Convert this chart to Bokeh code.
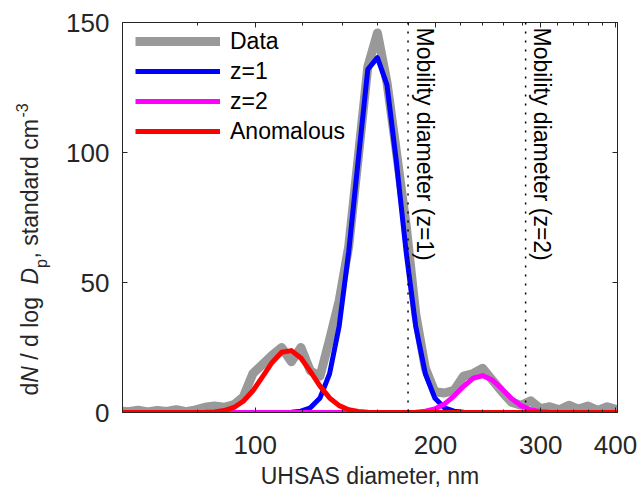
import math
from bokeh.plotting import figure
from bokeh.layouts import row
from bokeh.models import (LogAxis, LinearAxis, FixedTicker, Range1d, Span, Label,
                          Legend, LegendItem, CustomJSTickFormatter, PrintfTickFormatter)
from bokeh.embed import file_html
from bokeh.resources import INLINE

# ---------------- data ----------------
diameter_nm = [59.2, 61.4, 63.7, 66.1, 68.6, 71.1, 73.8, 76.6, 79.5, 82.4,
               85.5, 88.7, 92.1, 95.5, 99.1, 102.8, 106.7, 110.7, 114.9, 119.2,
               123.6, 128.3, 133.1, 138.1, 143.3, 148.6, 154.2, 160.0, 166.0, 172.2,
               178.7, 185.4, 192.4, 199.5, 207.0, 214.8, 222.9, 231.2, 239.9, 248.9,
               258.3, 268.0, 278.0, 288.5, 299.3, 310.5, 322.2, 334.3, 346.8, 359.8,
               373.4, 387.4, 404.0]

data_vals = [0.5, 0.3, 0.9, 0.2, 0.8, 0.4, 1.1, 0.3, 1.0, 2.0,
             2.5, 2.0, 3.0, 6.0, 15.0, 18.5, 22.0, 25.0, 19.5, 25.0,
             16.0, 14.0, 28.0, 43.0, 64.0, 98.0, 133.0, 146.0, 127.0, 100.0,
             72.0, 38.0, 17.0, 8.0, 7.5, 8.5, 14.0, 15.0, 17.0, 12.5,
             8.0, 4.0, 2.8, 4.5, 1.5, 2.2, 1.0, 2.8, 1.3, 2.5,
             0.8, 2.2, 1.0]

fit_z1 = [0, 0, 0, 0, 0, 0, 0, 0, 0, 0,
          0, 0, 0, 0, 0, 0, 0, 0, 0.1, 0.5,
          1.8, 5.6, 14.9, 33.2, 62.0, 97.0, 132.0, 136.5, 126.0, 96.0,
          61.7, 33.2, 14.9, 5.6, 1.8, 0.5, 0.1, 0, 0, 0,
          0, 0, 0, 0, 0, 0, 0, 0, 0, 0,
          0, 0, 0]

fit_z2 = [0, 0, 0, 0, 0, 0, 0, 0, 0, 0,
          0, 0, 0, 0, 0, 0, 0, 0, 0, 0,
          0, 0, 0, 0, 0, 0, 0, 0, 0, 0,
          0.02, 0.13, 0.47, 1.37, 3.24, 6.3, 10.06, 13.18, 14.18, 12.5,
          9.07, 5.39, 2.63, 1.05, 0.35, 0.09, 0, 0, 0, 0,
          0, 0, 0]

fit_anom = [0, 0, 0, 0, 0, 0, 0, 0, 0, 0.07,
            0.24, 0.74, 1.93, 4.34, 8.34, 13.7, 19.25, 23.15, 23.8, 20.95,
            15.8, 10.16, 5.6, 2.64, 1.06, 0.37, 0.11, 0.03, 0, 0,
            0, 0, 0, 0, 0, 0, 0, 0, 0, 0,
            0, 0, 0, 0, 0, 0, 0, 0, 0, 0,
            0, 0, 0]

series_names = ["Data", "z=1", "z=2", "Anomalous"]
mobility_diam = [180, 283]
mobility_text = ["Mobility diameter (z=1)", "Mobility diameter (z=2)"]

x_ticks = [100, 200, 300, 400]
x_minor = [60, 80, 120, 140, 160, 180, 220, 240, 260, 280, 320, 340, 360, 380]
y_ticks = [0, 50, 100, 150]

X_RANGE = (60, 403)
Y_RANGE = (0, 150)

# ---------------- style ----------------
FONT = "Liberation Sans"
AX = "#262626"
TICK_FS = "26px"
TXT_PX = 23
SUB_PX = 16
TXT_FS = f"{TXT_PX}px"
SUB_FS = f"{SUB_PX}px"
MID = 0.375          # Label anchor sits this many em above the text baseline

PAGE_H = 488
LEFT_W = 55          # strip holding the y-axis title

p = figure(frame_width=495, frame_height=390, x_axis_type="log",
           x_range=Range1d(*X_RANGE), y_range=Range1d(*Y_RANGE),
           output_backend="svg", toolbar_location=None,
           min_border_left=122 - LEFT_W, min_border_right=26,
           min_border_top=22, min_border_bottom=76)
p.xgrid.visible = False
p.ygrid.visible = False
p.outline_line_color = AX
p.outline_line_width = 1
p.background_fill_color = "white"
p.border_fill_color = "white"


def style_axis(ax, show_labels=True):
    ax.axis_line_color = AX
    ax.axis_line_width = 1
    ax.major_tick_line_color = AX
    ax.minor_tick_line_color = AX
    ax.major_tick_in = 5
    ax.major_tick_out = 0
    ax.minor_tick_in = 3
    ax.minor_tick_out = 0
    if show_labels:
        ax.major_label_text_font = FONT
        ax.major_label_text_font_size = TICK_FS
        ax.major_label_text_color = AX
    else:
        ax.major_label_text_font_size = "0px"
        ax.major_label_standoff = 0
        ax.formatter = CustomJSTickFormatter(code="return ''")


xa = p.xaxis[0]
xa.ticker = FixedTicker(ticks=x_ticks, minor_ticks=x_minor)
xa.formatter = PrintfTickFormatter(format="%d")
style_axis(xa)
xa.major_label_standoff = 23
xa.axis_label = "UHSAS diameter, nm"
xa.axis_label_text_font = FONT
xa.axis_label_text_font_size = TXT_FS
xa.axis_label_text_font_style = "normal"
xa.axis_label_text_color = AX
xa.axis_label_standoff = 6

ya = p.yaxis[0]
ya.ticker = FixedTicker(ticks=y_ticks, minor_ticks=[])
style_axis(ya)
ya.major_label_standoff = 13

top = LogAxis(ticker=FixedTicker(ticks=x_ticks, minor_ticks=x_minor))
style_axis(top, show_labels=False)
p.add_layout(top, "above")

right = LinearAxis(ticker=FixedTicker(ticks=y_ticks, minor_ticks=[]))
style_axis(right, show_labels=False)
p.add_layout(right, "right")

# ---------------- curves ----------------
r_data = p.line(diameter_nm, data_vals, line_color="#999999", line_width=9, line_join="round")
r_z1 = p.line(diameter_nm, fit_z1, line_color="#0000ff", line_width=5, line_join="round")
r_z2 = p.line(diameter_nm, fit_z2, line_color="#ff00ff", line_width=5, line_join="round")
r_an = p.line(diameter_nm, fit_anom, line_color="#ff0000", line_width=5, line_join="round")

for d, t in zip(mobility_diam, mobility_text):
    p.add_layout(Span(location=d, dimension="height", line_color="black",
                      line_width=1.5, line_dash="2 7"))
    # text reads downward; baseline 8 px right of the dotted line
    p.add_layout(Label(x=d, y=Y_RANGE[1], x_offset=8 + MID * TXT_PX, y_offset=-5, text=t,
                       angle=-math.pi / 2, text_align="left", text_baseline="middle",
                       text_font=FONT, text_font_size=TXT_FS, text_color="black"))

legend = Legend(items=[LegendItem(label=n, renderers=[r]) for n, r in
                       zip(series_names, [r_data, r_z1, r_z2, r_an])],
                location=(13, 266), glyph_width=85, glyph_height=30, label_height=30,
                label_standoff=10, spacing=0, padding=0, margin=0,
                border_line_alpha=0, background_fill_alpha=0,
                label_text_font=FONT, label_text_font_size=TXT_FS,
                label_text_color="black", label_text_baseline="middle")
p.add_layout(legend)

# ---------------- y-axis title strip (mixed italic / sub / superscript) ----------------
yl = figure(title=None, frame_width=LEFT_W, frame_height=PAGE_H, x_range=Range1d(0, LEFT_W),
            y_range=Range1d(0, PAGE_H), output_backend="svg", toolbar_location=None,
            x_axis_location=None, y_axis_location=None,
            min_border_left=0, min_border_right=0, min_border_top=0, min_border_bottom=0)
yl.xgrid.visible = False
yl.ygrid.visible = False
yl.outline_line_color = None
yl.background_fill_color = "white"
yl.border_fill_color = "white"

BASE = 38            # baseline of the rotated y title (px from strip left)
# (text, start measured from page bottom, baseline x, font px, style)
ylabel_parts = [
    ("d", PAGE_H - 373, BASE, TXT_PX, "normal"),
    ("N", PAGE_H - 360.2, BASE, TXT_PX, "italic"),
    ("/ d log", PAGE_H - 337.2, BASE, TXT_PX, "normal"),
    ("D", PAGE_H - 262, BASE, TXT_PX, "italic"),
    ("p", PAGE_H - 245.4, BASE + 8.6, SUB_PX, "normal"),
    (", standard cm", PAGE_H - 236, BASE, TXT_PX, "normal"),
    ("-3", PAGE_H - 95, BASE - 11, SUB_PX, "normal"),
]
for txt, yy, base, fpx, st in ylabel_parts:
    yl.add_layout(Label(x=base - MID * fpx, y=yy, text=txt, angle=math.pi / 2,
                        text_align="left", text_baseline="middle",
                        text_font=FONT, text_font_size=f"{fpx}px", text_font_style=st,
                        text_color=AX))

layout = row(yl, p, spacing=0)
open("out.html", "w").write(file_html(layout, INLINE))
